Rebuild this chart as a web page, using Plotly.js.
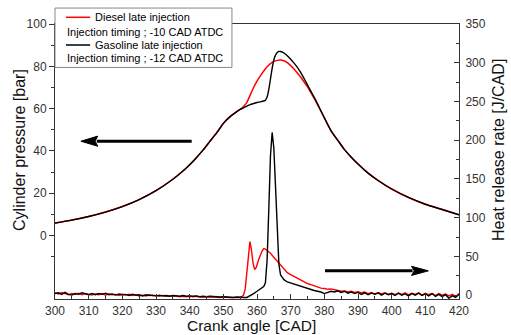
<!DOCTYPE html>
<html>
<head>
<meta charset="utf-8">
<script src="https://cdn.plot.ly/plotly-3.0.1.min.js"></script>
<style>html,body{margin:0;padding:0;background:#fff;}#chart{width:511px;height:335px;}</style>
</head>
<body>
<div id="chart"></div>
<script>
// ---- Cylinder pressure [bar] ----
const presCommonCA = [300,305,310,315,320,325,330,335,338,340,342,344,346,348,350,352,354,355];
const presCommon   = [5.9,7.3,9.0,11.1,13.7,17.0,21.2,26.6,30.5,33.5,36.8,40.5,44.5,48.5,53.0,56.2,58.6,59.6];

const presTailCA = [382,384,386,388,390,393,396,400,405,410,415,420];
const presTail   = [49.5,45.0,40.6,37.0,33.8,29.5,26.0,22.0,18.0,14.8,12.3,9.8];

const presGasMidCA = [356,357,358,359,360,361,362,362.5,363,363.5,364,364.5,365,365.5,366,366.5,367,368,369,370,371,372,373,374,375,376,377,378,379,380];
const presGasMid   = [60.4,61.2,61.9,62.4,62.9,63.2,63.6,64.0,65.5,69.0,74.0,79.0,83.0,85.3,86.5,87.0,87.0,86.3,85.0,83.3,81.5,79.5,77.0,74.2,71.2,68.3,65.3,62.2,58.9,55.6];

const presDslMidCA = [356,357,358,359,360,361,362,363,364,365,366,367,368,369,370,371,372,373,374,375,376,377,378,379,380];
const presDslMid   = [61.0,63.0,66.5,70.0,73.0,75.5,77.8,79.8,81.3,82.3,82.8,83.0,82.6,81.7,80.3,78.7,76.8,74.8,72.6,70.3,67.6,64.8,61.8,58.8,55.7];

// ---- Heat release rate [J/CAD] ----
const hrrGasCA = [300,301,302,303,304,305,306,307,308,309,310,311,312,313,314,315,316,317,318,319,320,321,322,323,324,325,326,327,328,329,330,331,332,333,334,335,336,337,338,339,340,341,342,343,344,345,346,347,348,349,350,351,352,353,354,355,356,357,358,359,360,361,362,362.5,363,363.5,364,364.5,365,365.5,366,366.5,367,367.5,368,369,370,371,372,373,374,375,376,377,378,379,380,381,382,383,384,385,386,387,388,389,390,391,392,393,394,395,396,397,398,399,400,401,402,403,404,405,406,407,408,409,410,411,412,413,414,415,416,417,418,419,420];
const hrrGas   = [2,3,1,3.5,1,0,2,1,3,1.5,0.5,2,0.5,2,1,2.5,0.5,1.5,0,1.5,0.5,1,-0.5,1,0,0.5,-1,0.5,-0.5,0,-1,0,-1,-0.5,-1.5,-0.5,-1,-1.5,-0.5,-1.5,-1,-1.5,-1,-2,-1.5,-2,-1.5,-2,-2,-2.5,-2,-2.5,-2.5,-3,-2.5,-3,-3,-3,-1,2,5,7.5,11,16,45,110,180,210,190,140,80,40,26,22,20,17,15.5,14,13,11,10,8.5,7.5,6,5,4,2,3.5,5,4,5.5,3.5,5,2.5,4,2,3.5,1,3,0.5,2.5,1,3,0,2.5,0.5,2,-0.5,2.5,0,1.5,-1,2,0,2.5,-0.5,1.5,-1,2,-1.5,1,-2,0.5,-4,-1,-3,1];

const hrrDslCA = [300,301,302,303,304,305,306,307,308,309,310,311,312,313,314,315,316,317,318,319,320,321,322,323,324,325,326,327,328,329,330,331,332,333,334,335,336,337,338,339,340,341,342,343,344,345,346,347,348,349,350,351,352,353,354,355,355.5,356,356.5,357,357.5,357.9,358.3,358.8,359.3,359.8,360.5,361,361.5,362,362.5,363,364,365,366,367,368,369,370,371,372,373,374,375,376,377,378,379,380,381,382,383,384,385,386,387,388,389,390,391,392,393,394,395,396,397,398,399,400,401,402,403,404,405,406,407,408,409,410,411,412,413,414,415,416,417,418,419,420];
const hrrDsl   = [3,1.5,3.5,2,0.5,2,1,2.5,0.5,2,1,0,1.5,0.5,2,0,1.5,0.5,1,-0.5,1,0,1,-0.5,0.5,-1,0,-1,0.5,-1,-0.5,-1.5,-0.5,-1.5,-1,-1.5,-1,-2,-1.5,-2,-1.5,-2,-1.5,-2.5,-2,-2.5,-2,-2.5,-2.5,-3,-2.5,-3,-3,-3,-3,-3,-2,0,8,30,58,69,60,42,33,36,46,52,57,60,59.5,57.5,54,49,44,38,33,29,26.5,24,21.5,19,17,15,13.5,12,10,9,8.5,7.5,8,6.5,6,5,5.5,4,5,3.5,4.5,3,4,2,3.5,1.5,3,1.5,3,1,2.5,0.5,2.5,1,3,0.5,2.5,1,3,0,2.5,0.5,2,-0.5,2,0,1.5,-1,1,-2,2];

// ---- Legend & labels ----
const legendNames = ['Diesel late injection','Injection timing ; -10 CAD ATDC','Gasoline late injection','Injection timing ; -12 CAD ATDC'];
const xTitle = 'Crank angle [CAD]';
const yTitle = 'Cylinder pressure [bar]';
const y2Title = 'Heat release rate [J/CAD]';
const colRed = '#ff0000', colBlack = '#000000';

const gasPresX = presCommonCA.concat(presGasMidCA, presTailCA);
const gasPresY = presCommon.concat(presGasMid, presTail);
const dslPresX = presCommonCA.concat(presDslMidCA, presTailCA);
const dslPresY = presCommon.concat(presDslMid, presTail);

const FONT = 'Liberation Sans, Arial, Helvetica, sans-serif';
const axCol = '#333333';

const traces = [
  {x: dslPresX, y: dslPresY, type:'scatter', mode:'lines', name:legendNames[0], line:{color:colRed, width:1.5, shape:'spline', smoothing:0.6}, yaxis:'y', showlegend:false, hoverinfo:'skip'},
  {x: gasPresX, y: gasPresY, type:'scatter', mode:'lines', name:legendNames[2], line:{color:colBlack, width:1.4, shape:'spline', smoothing:0.6}, yaxis:'y', showlegend:false, hoverinfo:'skip'},
  {x: hrrDslCA, y: hrrDsl, type:'scatter', mode:'lines', name:legendNames[0], line:{color:colRed, width:1.4}, yaxis:'y2', showlegend:false, hoverinfo:'skip'},
  {x: hrrGasCA, y: hrrGas, type:'scatter', mode:'lines', name:legendNames[2], line:{color:colBlack, width:1.4}, yaxis:'y2', showlegend:false, hoverinfo:'skip'}
];

// arrows (data coords, left axis)
const arrowL = {tip:307.7, base:312.7, notch:311.9, end:340.6, y:44.6, half:2.4};
const arrowR = {tip:410.9, base:405.9, notch:406.7, start:380.2, y:-16.7, half:2.15};

// legend box geometry in paper coords
const lgX0 = 0, lgX1 = 0.438, lgY0 = 0.842, lgY1 = 1.058;
const lineX0 = 0.027, lineX1 = 0.087;
const rowY = [1.0244, 0.9698, 0.9236, 0.8753];

const shapes = [
  {type:'line', xref:'x', yref:'y', x0:arrowL.base-0.3, x1:arrowL.end, y0:arrowL.y, y1:arrowL.y, line:{color:'#000', width:3}},
  {type:'path', xref:'x', yref:'y', path:`M ${arrowL.tip},${arrowL.y} L ${arrowL.base},${arrowL.y+arrowL.half} L ${arrowL.notch},${arrowL.y} L ${arrowL.base},${arrowL.y-arrowL.half} Z`, fillcolor:'#000', line:{color:'#000', width:1}},
  {type:'line', xref:'x', yref:'y', x0:arrowR.start, x1:arrowR.base+0.3, y0:arrowR.y, y1:arrowR.y, line:{color:'#000', width:3}},
  {type:'path', xref:'x', yref:'y', path:`M ${arrowR.tip},${arrowR.y} L ${arrowR.base},${arrowR.y+arrowR.half} L ${arrowR.notch},${arrowR.y} L ${arrowR.base},${arrowR.y-arrowR.half} Z`, fillcolor:'#000', line:{color:'#000', width:1}},
  {type:'rect', xref:'paper', yref:'paper', x0:lgX0, x1:lgX1, y0:lgY0, y1:lgY1, fillcolor:'#ffffff', line:{color:'#888888', width:1}, layer:'above'},
  {type:'line', xref:'paper', yref:'paper', x0:lineX0, x1:lineX1, y0:rowY[0], y1:rowY[0], line:{color:colRed, width:1.5}, layer:'above'},
  {type:'line', xref:'paper', yref:'paper', x0:lineX0, x1:lineX1, y0:rowY[2], y1:rowY[2], line:{color:colBlack, width:1.5}, layer:'above'}
];

const annXs = [0.097, 0.026, 0.097, 0.026];
const annotations = legendNames.map((t,i)=>({
  text:t, xref:'paper', yref:'paper', x:annXs[i], y:rowY[i], xanchor:'left', yanchor:'middle',
  showarrow:false, font:{family:FONT, size:11, color:'#000'}, borderpad:0
}));
const titleFont = {family:FONT, size:16, color:'#111'};
annotations.push(
  {text:xTitle, xref:'paper', yref:'paper', x:0.4864, y:-0.1327, xanchor:'center', yanchor:'bottom', showarrow:false, borderpad:0, font:{family:FONT, size:15.5, color:'#111'}},
  {text:yTitle, xref:'paper', yref:'paper', x:-0.0866, y:0.542, xanchor:'center', yanchor:'middle', textangle:-90, showarrow:false, font:titleFont},
  {text:y2Title, xref:'paper', yref:'paper', x:1.099, y:0.542, xanchor:'center', yanchor:'middle', textangle:-90, showarrow:false, font:titleFont}
);

const tickFont = {family:FONT, size:12, color:'#333'};

const layout = {
  width:511, height:335,
  margin:{l:55, r:52, t:24, b:36, pad:0},
  paper_bgcolor:'#fff', plot_bgcolor:'#fff',
  font:{family:FONT},
  showlegend:false,
  xaxis:{
    range:[300,420], tickmode:'linear', tick0:300, dtick:10,
    ticks:'inside', ticklen:5, tickwidth:1, tickcolor:axCol,
    minor:{dtick:5, tick0:300, ticks:'inside', ticklen:3, tickcolor:axCol},
    showline:true, linecolor:axCol, linewidth:1, mirror:true,
    showgrid:false, zeroline:false, tickfont:tickFont, ticklabelstandoff:1
  },
  yaxis:{
    range:[-30,100], tickmode:'array', tickvals:[0,20,40,60,80,100],
    ticks:'outside', ticklen:5, tickwidth:1, tickcolor:axCol,
    minor:{tickmode:'array', tickvals:[-10,10,30,50,70,90], ticks:'outside', ticklen:3, tickcolor:axCol},
    showline:true, linecolor:axCol, linewidth:1,
    showgrid:false, zeroline:false, tickfont:tickFont
  },
  yaxis2:{
    overlaying:'y', side:'right', anchor:'x',
    range:[-5,350], tickmode:'linear', tick0:0, dtick:50,
    ticks:'inside', ticklen:5, tickwidth:1, tickcolor:axCol,
    minor:{dtick:25, tick0:0, ticks:'inside', ticklen:3, tickcolor:axCol},
    showline:true, linecolor:axCol, linewidth:1,
    showgrid:false, zeroline:false, tickfont:tickFont, ticklabelstandoff:3
  },
  yaxis3:{
    overlaying:'y', side:'left', anchor:'x',
    range:[-30,100], tickmode:'array', tickvals:[0,20,40,60,80,100],
    ticks:'inside', ticklen:3, tickwidth:1, tickcolor:axCol,
    minor:{tickmode:'array', tickvals:[-10,10,30,50,70,90], ticks:'inside', ticklen:2, tickcolor:axCol},
    showline:false, showgrid:false, zeroline:false, showticklabels:false
  },
  shapes:shapes,
  annotations:annotations
};

Plotly.newPlot('chart', traces, layout, {displayModeBar:false, staticPlot:true});
</script>
</body>
</html>
